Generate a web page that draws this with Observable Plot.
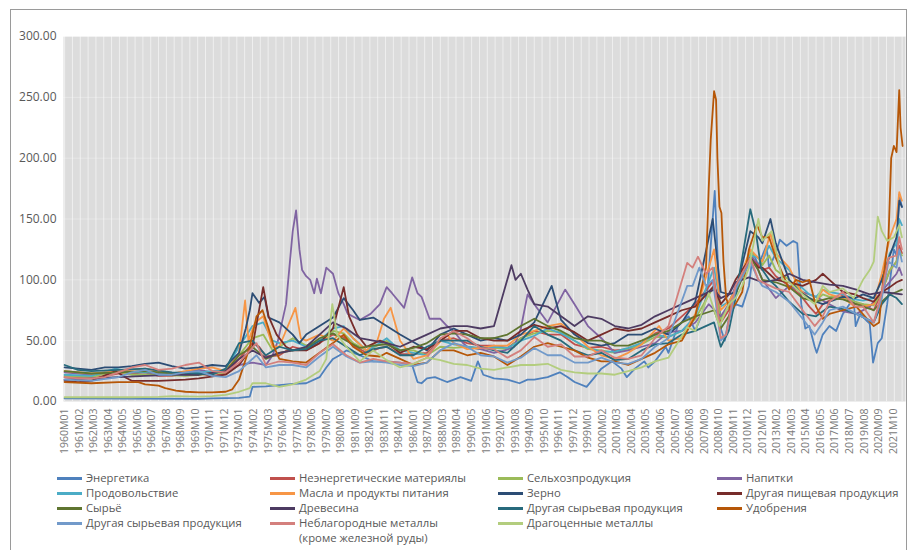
<!DOCTYPE html>
<html><head><meta charset="utf-8">
<script src="https://cdn.jsdelivr.net/npm/d3@7"></script>
<script src="https://cdn.jsdelivr.net/npm/@observablehq/plot@0.6"></script>
<style>
body{margin:0;background:#fff;font-family:"Open Sans",sans-serif;}
#wrap{position:relative;width:907px;height:550px;overflow:hidden;background:#fff;}
#frame{position:absolute;left:10px;top:9px;width:897px;height:560px;border:1px solid #9a9a9a;box-sizing:border-box;}
#chart{position:absolute;left:0;top:0;}
#legend{position:absolute;left:0;top:0;width:907px;height:550px;font-size:11.3px;color:#595959;}
.item{position:absolute;height:14px;line-height:14px;white-space:nowrap;}
.sw{position:absolute;height:3px;width:25px;}
</style></head>
<body>
<div id="wrap"><div id="frame"></div><div id="chart"></div><div id="legend"></div></div>
<script>
// ---- data ----
const names = ["Энергетика","Неэнергетические материялы","Сельхозпродукция","Напитки",
  "Продовольствие","Масла и продукты питания","Зерно","Другая пищевая продукция",
  "Сырьё","Древесина","Другая сырьевая продукция","Удобрения",
  "Другая сырьевая продукция ","Неблагородные металлы\n(кроме железной руды)","Драгоценные металлы"];
const colors = ["#4F81BD","#C0504D","#9BBB59","#8064A2","#4BACC6","#F79646","#2C4D75","#772C2A",
  "#5F7530","#4D3B62","#276A7C","#B65708","#729ACA","#D4807D","#B3CD7E"];
const yTicks = [0,50,100,150,200,250,300];
const startYear = 1960;

const energy = [[1960,2.5],[1965,2.3],[1970,2.2],[1971,2.6],[1973,3.0],[1973.8,4],[1974.0,12],[1975,12.5],[1976,13.5],[1977,14.5],[1978,15],[1979,20],[1979.5,28],[1980,35],[1980.5,38],[1981,42],[1981.5,40],[1982,38],[1983,33],[1984,33],[1985,32],[1985.9,30],[1986.3,16],[1986.6,15],[1987,19],[1987.6,20],[1988.5,16],[1989,18],[1989.5,20],[1990.3,17],[1990.8,33],[1991.2,22],[1992,19],[1993,18],[1993.9,15],[1994.5,18],[1995,18],[1996,20],[1996.9,24],[1997.5,20],[1998,16],[1998.9,12],[1999.5,20],[2000,27],[2000.8,33],[2001.5,27],[2001.9,20],[2002.5,27],[2003.2,33],[2003.5,28],[2004,33],[2004.8,45],[2005,40],[2005.7,62],[2006.5,70],[2007,58],[2007.5,72],[2007.9,90],[2008.45,173],[2008.9,60],[2009.2,50],[2009.5,68],[2010,80],[2010.5,78],[2011,95],[2011.3,122],[2011.7,112],[2012,120],[2012.3,128],[2012.5,110],[2013,122],[2013.3,133],[2013.8,128],[2014.3,132],[2014.6,130],[2014.9,80],[2015.2,60],[2015.5,62],[2015.9,45],[2016.05,40],[2016.5,55],[2017,62],[2017.5,58],[2018,72],[2018.8,85],[2018.95,62],[2019.3,72],[2019.8,66],[2020.0,64],[2020.25,32],[2020.6,48],[2020.9,52],[2021.3,80],[2021.8,125],[2022.0,120],[2022.2,170],[2022.4,160]];
const nonEnergy = [[1960,20],[1962,19],[1964,23],[1965,23],[1966,24],[1967,21],[1968,21],[1969,23],[1970,23],[1971,21],[1972,23],[1973,35],[1974,48],[1974.5,45],[1975,37],[1976,38],[1977,45],[1978,42],[1979,48],[1980,55],[1980.8,53],[1981.5,46],[1982.5,40],[1983.5,44],[1984,45],[1985,39],[1986,39],[1987,40],[1988,50],[1989,52],[1990,48],[1991,46],[1992,46],[1993,44],[1994,52],[1995,58],[1996,55],[1997,55],[1998,47],[1999,44],[2000,45],[2001,42],[2002,43],[2003,48],[2004,56],[2005,60],[2006,70],[2007,80],[2008.4,100],[2008.9,65],[2009.5,75],[2010,90],[2011.1,120],[2011.7,112],[2012,108],[2012.5,110],[2013,103],[2014,95],[2014.8,88],[2015.5,78],[2016,72],[2016.5,80],[2017,83],[2018,87],[2018.9,80],[2019.5,80],[2020.3,75],[2020.9,90],[2021.5,108],[2022,115],[2022.2,128],[2022.4,122]];
const agri = [[1960,21],[1962,20],[1963.8,25],[1965,22],[1967,22],[1969,21],[1970,22],[1972,24],[1973,38],[1974,52],[1974.8,55],[1975.5,42],[1976,45],[1977,52],[1978,46],[1979,50],[1980,58],[1980.8,56],[1981.5,48],[1982.5,42],[1983.5,47],[1984,50],[1985,42],[1986,42],[1987,38],[1988,45],[1989,44],[1990,45],[1991,43],[1992,44],[1993,43],[1994,52],[1995,56],[1996,58],[1997,57],[1998,50],[1999,43],[2000,42],[2001,40],[2002,43],[2003,47],[2004,53],[2005,53],[2006,58],[2007,68],[2008.4,95],[2008.9,68],[2009.5,78],[2010,88],[2011.1,122],[2011.7,118],[2012,112],[2012.5,120],[2013,108],[2014,100],[2014.8,92],[2015.5,85],[2016,83],[2016.5,88],[2017,86],[2018,86],[2018.9,82],[2019.5,80],[2020.3,79],[2020.9,90],[2021.5,108],[2022,115],[2022.2,124],[2022.4,120]];
const beverages = [[1960,24],[1962,22],[1964,25],[1966,24],[1968,23],[1970,26],[1971,24],[1972,25],[1973,30],[1974,32],[1975,30],[1975.5,38],[1975.9,50],[1976.5,80],[1977.0,140],[1977.25,157],[1977.5,125],[1977.7,108],[1978.0,103],[1978.3,100],[1978.6,89],[1978.8,101],[1979.1,89],[1979.5,110],[1980.0,105],[1980.4,89],[1980.8,80],[1981.1,72],[1982,67],[1982.8,72],[1983.5,80],[1984,94],[1984.4,89],[1985.3,77],[1985.9,102],[1986.3,89],[1986.6,86],[1987.2,68],[1988,68],[1988.5,62],[1989,58],[1989.7,48],[1990,45],[1991,43],[1992,40],[1992.8,42],[1993.5,45],[1994.0,60],[1994.5,88],[1995,80],[1996,65],[1997.3,92],[1998,80],[1999,62],[2000,52],[2001,40],[2002,42],[2003,45],[2004,48],[2005,57],[2006,58],[2007,65],[2008,80],[2008.9,70],[2009.5,80],[2010,95],[2011.3,118],[2012,100],[2013,85],[2014,95],[2015,90],[2016,86],[2017,80],[2018,74],[2019,72],[2020,78],[2021,92],[2022,105],[2022.2,110],[2022.4,104]];
const food = [[1960,22],[1962,21],[1963.8,27],[1965,24],[1967,24],[1969,22],[1970,24],[1972,26],[1973,45],[1974,62],[1974.8,65],[1975.5,50],[1976,48],[1977,50],[1978,45],[1979,50],[1980,60],[1980.8,62],[1981.5,52],[1982.5,42],[1983.5,48],[1984,52],[1985,42],[1986,40],[1987,38],[1988,50],[1989,47],[1990,45],[1991,44],[1992,45],[1993,44],[1994,50],[1995,54],[1996,60],[1997,56],[1998,50],[1999,44],[2000,41],[2001,41],[2002,44],[2003,48],[2004,55],[2005,53],[2006,58],[2007,70],[2008.4,110],[2008.9,78],[2009.5,82],[2010,92],[2011.1,120],[2011.7,118],[2012,115],[2012.5,128],[2013,118],[2014,108],[2014.8,95],[2015.5,88],[2016,86],[2016.5,92],[2017,90],[2018,88],[2018.9,84],[2019.5,83],[2020.3,85],[2020.9,100],[2021.5,122],[2022,130],[2022.2,150],[2022.4,145]];
const oils = [[1960,25],[1962,23],[1964,25],[1966,27],[1968,23],[1970,27],[1971,28],[1972,25],[1973.0,40],[1973.45,83],[1973.7,50],[1974.2,65],[1974.8,70],[1975.5,45],[1976,45],[1977.2,77],[1977.6,52],[1978,50],[1979,55],[1980,50],[1980.8,60],[1981.5,52],[1982.5,42],[1983.3,50],[1983.8,68],[1984.3,77],[1985,50],[1986,35],[1987,38],[1988.5,55],[1989,48],[1990,43],[1991,44],[1992,46],[1993,46],[1994,55],[1995,58],[1996,62],[1997,64],[1998,56],[1999,45],[2000,38],[2001,35],[2002,40],[2003,47],[2004.3,62],[2005,50],[2006,52],[2007,72],[2008.4,125],[2008.9,75],[2009.5,82],[2010,92],[2011.1,125],[2011.7,118],[2012,115],[2012.6,138],[2013,122],[2014,110],[2014.8,92],[2015.5,84],[2016,82],[2016.5,92],[2017,88],[2018,85],[2018.9,78],[2019.5,78],[2020.3,80],[2020.9,105],[2021.5,135],[2022,150],[2022.2,172],[2022.4,165]];
const grains = [[1960,28],[1961,27],[1962,26],[1963,28],[1964,28],[1965,29],[1966,31],[1967,32],[1968,29],[1969,27],[1970,28],[1971,30],[1972,29],[1973.0,40],[1973.5,60],[1973.8,75],[1974.0,89],[1974.5,81],[1974.9,86],[1975.2,69],[1976,65],[1977,55],[1977.5,48],[1978,55],[1979,62],[1980,69],[1980.8,85],[1981.5,75],[1982,67],[1983,69],[1984,62],[1985,55],[1986.6,45],[1987,42],[1988,55],[1989,60],[1990,55],[1991,50],[1992,52],[1993,50],[1994,55],[1995,65],[1996.3,95],[1997,67],[1998,55],[1999,48],[2000,46],[2001,48],[2002,55],[2003,55],[2004,60],[2005,55],[2006,65],[2007,82],[2008.3,150],[2008.9,90],[2009.5,88],[2010,90],[2011.1,140],[2011.7,135],[2012,130],[2012.6,150],[2013,130],[2014,100],[2014.8,90],[2015.5,85],[2016,82],[2016.5,80],[2017,82],[2018,86],[2018.9,85],[2019.5,88],[2020.3,85],[2020.9,100],[2021.5,120],[2022,135],[2022.2,165],[2022.4,160]];
const otherFood = [[1960,17],[1961,16],[1962,17],[1963.8,25],[1964.5,20],[1965,17],[1967,17],[1969,18],[1970,19],[1972,22],[1973,30],[1974.0,45],[1974.8,94],[1975.2,70],[1975.8,55],[1976.5,45],[1977,42],[1978,42],[1979,48],[1980,60],[1980.8,94],[1981.2,70],[1981.8,55],[1982.5,45],[1983.5,50],[1984,48],[1985,40],[1986,45],[1987,43],[1988,50],[1989,58],[1990,58],[1991,52],[1992,50],[1993,50],[1994,58],[1995,63],[1996,60],[1997,62],[1998,57],[1999,50],[2000,55],[2001,60],[2002,58],[2003,60],[2004,65],[2005,70],[2006,75],[2007,78],[2008.4,95],[2008.9,80],[2009.5,88],[2010,100],[2011.1,118],[2011.7,110],[2012,110],[2012.5,105],[2013,100],[2014,98],[2015,95],[2016,100],[2016.5,105],[2017,100],[2018,90],[2018.9,88],[2019.5,85],[2020.3,82],[2020.9,90],[2021.5,94],[2022,98],[2022.4,100]];
const rawMat = [[1960,25],[1962,23],[1964,24],[1966,25],[1968,23],[1970,22],[1972,25],[1973,38],[1974,45],[1975,35],[1976,40],[1977,42],[1978,44],[1979,52],[1980,56],[1981,50],[1982,44],[1983,46],[1984,47],[1985,42],[1986,44],[1987,48],[1988,55],[1989,56],[1990,55],[1991,52],[1992,52],[1993,55],[1994,62],[1995,68],[1996,62],[1997,58],[1998,52],[1999,50],[2000,50],[2001,46],[2002,46],[2003,50],[2004,55],[2005,58],[2006,65],[2007,70],[2008.4,75],[2008.9,60],[2009.5,70],[2010,88],[2011.1,118],[2011.7,108],[2012,100],[2013,98],[2014,94],[2015,85],[2016,82],[2017,85],[2018,84],[2019,80],[2020.3,75],[2020.9,82],[2021.5,88],[2022,90],[2022.4,92]];
const timber = [[1960,18],[1962,19],[1964,20],[1966,21],[1968,22],[1970,22],[1972,25],[1973,35],[1974,42],[1975,36],[1976,40],[1977,42],[1978,45],[1979,55],[1980,65],[1981,60],[1982,52],[1983,50],[1984,48],[1985,45],[1986,50],[1987,55],[1988,60],[1989,62],[1990,62],[1991,60],[1992,62],[1993.3,112],[1993.6,100],[1994,105],[1994.5,92],[1995,80],[1996,78],[1997,70],[1998,62],[1999,70],[2000,68],[2001,62],[2002,60],[2003,63],[2004,70],[2005,75],[2006,80],[2007,85],[2008.4,92],[2008.9,85],[2009.5,88],[2010,98],[2011,102],[2012,98],[2013,100],[2014,105],[2015,100],[2016,98],[2017,96],[2018,95],[2019,92],[2020,88],[2021,90],[2022.4,88]];
const otherRaw = [[1960,30],[1961,26],[1962,25],[1964,26],[1966,27],[1968,24],[1970,23],[1971,22],[1972,27],[1973,48],[1974,50],[1975,38],[1976,45],[1977,42],[1978,43],[1979,50],[1980,52],[1981,45],[1982,38],[1983,43],[1984,45],[1985,38],[1986,38],[1987,45],[1988,50],[1989,50],[1990,50],[1991,45],[1992,42],[1993,40],[1994,50],[1995,62],[1996,55],[1997,50],[1998,42],[1999,38],[2000,40],[2001,34],[2002,35],[2003,42],[2004,47],[2005,48],[2006,55],[2007,58],[2008.4,65],[2008.9,45],[2009.5,58],[2010,85],[2011.1,158],[2011.5,140],[2011.9,110],[2012.5,100],[2013,95],[2014,82],[2015,72],[2016,70],[2017,78],[2018,76],[2019,72],[2020.3,65],[2020.9,80],[2021.5,88],[2022,85],[2022.4,80]];
const fert = [[1960,16],[1962,15],[1964,16],[1965.5,16],[1966,14],[1967,13],[1967.5,11],[1968.3,9],[1969,8],[1970,7.5],[1971,7.5],[1972,8],[1972.5,10],[1973,18],[1973.8,45],[1974.3,70],[1974.75,75],[1975.2,60],[1975.6,45],[1976,35],[1977,33],[1978,32],[1979,40],[1980,48],[1980.8,55],[1981.5,45],[1982.5,38],[1983.5,37],[1984,40],[1985,35],[1986,30],[1987,32],[1988,42],[1989,42],[1990,38],[1991,40],[1992,37],[1993,30],[1994,37],[1995,45],[1996,48],[1997,45],[1998,42],[1999,36],[2000,33],[2001,33],[2002,30],[2003,35],[2004,40],[2005,47],[2006,50],[2007,70],[2007.8,110],[2008.0,175],[2008.15,215],[2008.4,255],[2008.55,248],[2008.65,200],[2008.8,160],[2008.95,155],[2009.1,115],[2009.3,85],[2009.6,75],[2010,80],[2010.5,90],[2011,125],[2011.6,145],[2012,135],[2012.5,135],[2013,118],[2013.7,100],[2014,92],[2014.5,100],[2015,98],[2015.5,100],[2016,78],[2016.5,68],[2017,72],[2018,75],[2019,78],[2019.8,68],[2020.3,62],[2020.7,65],[2021.0,100],[2021.4,135],[2021.6,200],[2021.8,210],[2022.0,205],[2022.2,256],[2022.3,225],[2022.45,210]];
const metals = [[1960,18],[1962,17],[1964,20],[1965,24],[1966,26],[1967,22],[1968,22],[1969,24],[1970,25],[1971,21],[1972,20],[1973,25],[1974.3,38],[1975,28],[1976,30],[1977,30],[1978,28],[1979,37],[1980,45],[1981,37],[1982,32],[1983,33],[1984,32],[1985,30],[1986,29],[1987,32],[1988,42],[1989,48],[1990,45],[1991,38],[1992,37],[1993,32],[1994,36],[1995,44],[1996,38],[1997,38],[1998,32],[1999,32],[2000,36],[2001,32],[2002,31],[2003,35],[2004,45],[2005,52],[2006.4,95],[2006.8,95],[2007.3,110],[2007.8,95],[2008.3,100],[2008.9,50],[2009.3,55],[2009.8,80],[2010,92],[2011.1,115],[2011.7,100],[2012,95],[2013,90],[2014,82],[2015,68],[2015.9,55],[2016.5,65],[2017,75],[2018,78],[2019,72],[2020.3,65],[2020.9,85],[2021.4,115],[2022,110],[2022.2,125],[2022.4,115]];
const baseMetals = [[1960,20],[1961,19],[1962,19],[1963,20],[1964,24],[1965,28],[1966,30],[1967,26],[1968,27],[1969,30],[1970,32],[1971,25],[1972,24],[1973,32],[1974.3,48],[1975,30],[1976,33],[1977,32],[1978,30],[1979,40],[1980,47],[1981,38],[1982,32],[1983,35],[1984,33],[1985,32],[1986,31],[1987,36],[1988,52],[1989,58],[1990,52],[1991,44],[1992,43],[1993,36],[1994,42],[1995,53],[1996,45],[1997,47],[1998,37],[1999,37],[2000,42],[2001,36],[2002,35],[2003,38],[2004,52],[2005,62],[2006.4,114],[2006.8,110],[2007.2,119],[2007.8,105],[2008.3,110],[2008.9,52],[2009.3,55],[2009.8,85],[2010,95],[2011.1,118],[2011.7,100],[2012,98],[2013,93],[2014,90],[2015,75],[2015.9,62],[2016.5,70],[2017,82],[2018,90],[2018.9,78],[2019.5,78],[2020.3,65],[2020.9,90],[2021.4,118],[2022,120],[2022.2,135],[2022.4,125]];
const precious = [[1960,3.5],[1965,3.5],[1967,3.8],[1968,4.5],[1970,4],[1971,4.5],[1972,5.5],[1973,8],[1973.8,11],[1974.0,15],[1975,15],[1976,12],[1977,14],[1978,18],[1979,25],[1979.5,35],[1979.95,80],[1980.3,55],[1981,45],[1982,33],[1983,42],[1984,34],[1985,28],[1986,31],[1987,36],[1988,34],[1989,31],[1990,30],[1991,27],[1992,26],[1993,28],[1994,30],[1995,30],[1996,31],[1997,26],[1998,24],[1999,23],[2000,23],[2001,22],[2002,25],[2003,28],[2004,33],[2005,36],[2006.4,61],[2007,58],[2008.0,89],[2008.8,62],[2009.5,80],[2010,85],[2010.5,95],[2011.0,110],[2011.7,150],[2012,132],[2012.7,140],[2013,125],[2013.5,100],[2014,98],[2015,88],[2015.9,80],[2016.5,95],[2017,90],[2018,93],[2018.8,85],[2019.5,100],[2020.0,108],[2020.3,115],[2020.6,152],[2020.9,140],[2021.3,132],[2021.8,135],[2022.2,145],[2022.4,135]];

const seriesList = [energy,nonEnergy,agri,beverages,food,oils,grains,otherFood,rawMat,timber,otherRaw,fert,metals,baseMetals,precious];

// ---- build ----
const rows = seriesList.flatMap((s, i) => s.map(([t, v]) => ({name: names[i], m: (t - startYear) * 12, v})));
const tickIdx = d3.range(0, 742, 13);
const fmtTick = i => `${startYear + Math.floor(i / 12)}M${String(i % 12 + 1).padStart(2, "0")}`;
const gridIdx = d3.range(0, 752, 7);

const chart = Plot.plot({
  width: 907, height: 460,
  marginLeft: 63, marginRight: 2, marginTop: 36, marginBottom: 59,
  style: {fontFamily: "'Open Sans', sans-serif", fontSize: "12px", color: "#595959", background: "transparent"},
  x: {domain: [-1, 752]},
  y: {domain: [0, 300]},
  color: {domain: names, range: colors},
  marks: [
    Plot.frame({fill: "#dcdcdc", stroke: null}),
    Plot.ruleX(gridIdx, {stroke: "white", strokeWidth: 1, strokeOpacity: 0.55}),
    Plot.ruleY(yTicks.slice(1), {stroke: "white", strokeOpacity: 0.3}),
    Plot.line(rows, {x: "m", y: "v", z: "name", stroke: "name", strokeWidth: 1.8, strokeLinejoin: "round"}),
    Plot.axisX({ticks: tickIdx, tickFormat: fmtTick, tickRotate: -90, tickSize: 0, tickPadding: 7, label: null, fontSize: 10.5, fill: "#7a7a7a"}),
    Plot.axisY({ticks: yTicks, tickFormat: d => d.toFixed(2), tickSize: 0, tickPadding: 7, label: null})
  ]
});
document.getElementById("chart").appendChild(chart);

// ---- legend ----
const colX = [57, 270, 498, 717];
const rowY = [478, 493, 508, 523];
const leg = document.getElementById("legend");
names.forEach((n, i) => {
  const c = i % 4, r = Math.floor(i / 4);
  const sw = document.createElement("div");
  sw.className = "sw";
  sw.style.left = colX[c] + "px";
  sw.style.top = (rowY[r] - 1) + "px";
  sw.style.background = colors[i];
  leg.appendChild(sw);
  const lines = n.trim().split("\n");
  lines.forEach((ln, k) => {
    const t = document.createElement("div");
    t.className = "item";
    t.textContent = ln;
    t.style.left = (colX[c] + 29) + "px";
    t.style.top = (rowY[r] - 7 + k * 14.5) + "px";
    leg.appendChild(t);
  });
});
</script>
</body></html>
